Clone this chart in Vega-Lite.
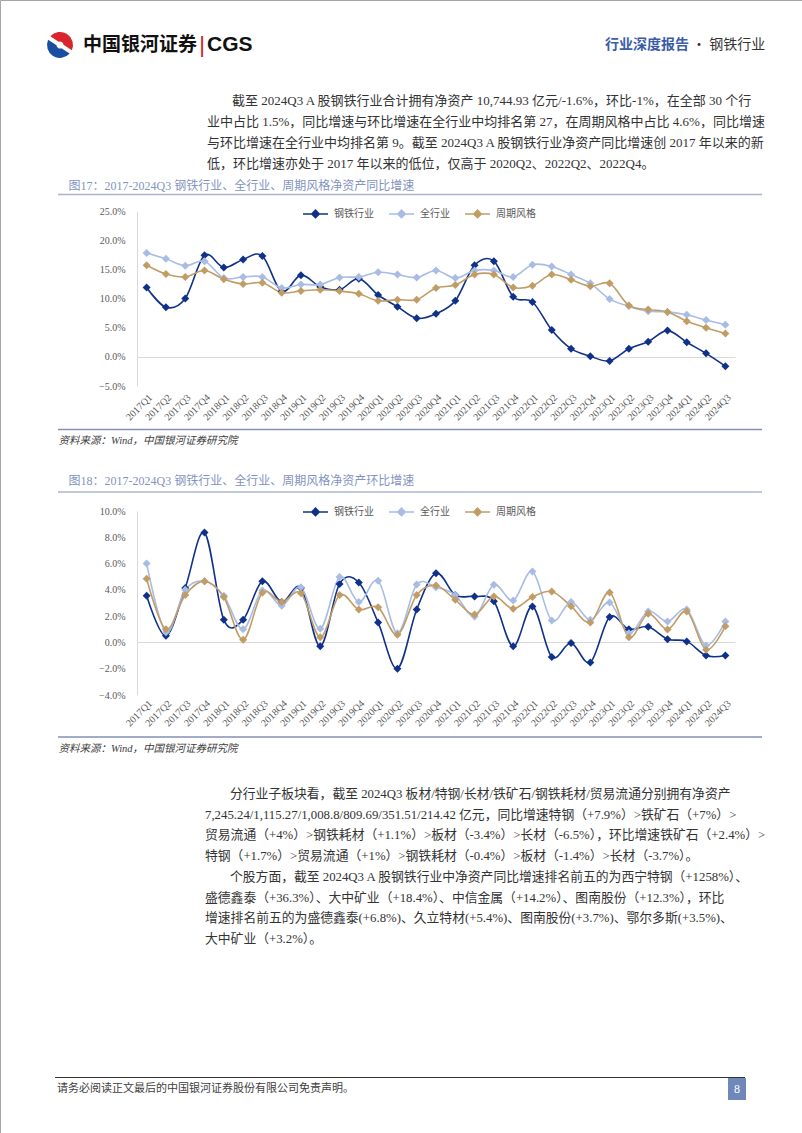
{
  "$schema": "https://vega.github.io/schema/vega-lite/v6.json",
  "width": 802,
  "height": 1133,
  "autosize": {"type": "none"},
  "padding": 0,
  "background": "white",
  "config": {
    "view": {"stroke": "#a6a6a6", "strokeWidth": 1},
    "axis": {"labelFont": "Liberation Serif", "labelFontSize": 10, "labelColor": "#595959", "ticks": false, "grid": false, "domainColor": "#d9d9d9", "domainWidth": 1, "titleFontWeight": "normal", "labelOverlap": false}
  },
  "datasets": {
    "yoy": [
      {"q": "2017Q1", "钢铁行业": 11.9, "全行业": 17.8, "周期风格": 15.7},
      {"q": "2017Q2", "钢铁行业": 8.5, "全行业": 16.8, "周期风格": 14.2},
      {"q": "2017Q3", "钢铁行业": 10.0, "全行业": 15.6, "周期风格": 13.7},
      {"q": "2017Q4", "钢铁行业": 17.4, "全行业": 16.4, "周期风格": 14.8},
      {"q": "2018Q1", "钢铁行业": 15.3, "全行业": 13.5, "周期风格": 13.3},
      {"q": "2018Q2", "钢铁行业": 16.7, "全行业": 13.7, "周期风格": 12.5},
      {"q": "2018Q3", "钢铁行业": 17.3, "全行业": 13.7, "周期风格": 12.7},
      {"q": "2018Q4", "钢铁行业": 11.2, "全行业": 11.8, "周期风格": 11.0},
      {"q": "2019Q1", "钢铁行业": 14.0, "全行业": 12.4, "周期风格": 11.3},
      {"q": "2019Q2", "钢铁行业": 12.0, "全行业": 12.4, "周期风格": 11.5},
      {"q": "2019Q3", "钢铁行业": 11.5, "全行业": 13.6, "周期风格": 11.3},
      {"q": "2019Q4", "钢铁行业": 13.4, "全行业": 13.7, "周期风格": 10.8},
      {"q": "2020Q1", "钢铁行业": 10.6, "全行业": 14.5, "周期风格": 9.6},
      {"q": "2020Q2", "钢铁行业": 8.6, "全行业": 14.1, "周期风格": 9.8},
      {"q": "2020Q3", "钢铁行业": 6.6, "全行业": 13.6, "周期风格": 9.8},
      {"q": "2020Q4", "钢铁行业": 7.4, "全行业": 14.8, "周期风格": 11.8},
      {"q": "2021Q1", "钢铁行业": 9.6, "全行业": 13.5, "周期风格": 12.3},
      {"q": "2021Q2", "钢铁行业": 15.7, "全行业": 14.8, "周期风格": 14.1},
      {"q": "2021Q3", "钢铁行业": 16.4, "全行业": 14.8, "周期风格": 14.1},
      {"q": "2021Q4", "钢铁行业": 10.3, "全行业": 13.7, "周期风格": 11.9},
      {"q": "2022Q1", "钢铁行业": 9.4, "全行业": 15.8, "周期风格": 12.2},
      {"q": "2022Q2", "钢铁行业": 4.6, "全行业": 15.5, "周期风格": 14.1},
      {"q": "2022Q3", "钢铁行业": 1.4, "全行业": 14.1, "周期风格": 13.2},
      {"q": "2022Q4", "钢铁行业": 0.1, "全行业": 12.6, "周期风格": 12.1},
      {"q": "2023Q1", "钢铁行业": -0.7, "全行业": 9.9, "周期风格": 12.6},
      {"q": "2023Q2", "钢铁行业": 1.4, "全行业": 8.7, "周期风格": 8.8},
      {"q": "2023Q3", "钢铁行业": 2.6, "全行业": 7.8, "周期风格": 8.1},
      {"q": "2023Q4", "钢铁行业": 4.5, "全行业": 7.7, "周期风格": 7.7},
      {"q": "2024Q1", "钢铁行业": 2.5, "全行业": 7.2, "周期风格": 6.1},
      {"q": "2024Q2", "钢铁行业": 0.6, "全行业": 6.3, "周期风格": 5.0},
      {"q": "2024Q3", "钢铁行业": -1.6, "全行业": 5.5, "周期风格": 4.0}
    ],
    "qoq": [
      {"q": "2017Q1", "钢铁行业": 3.55, "全行业": 6.0, "周期风格": 4.84},
      {"q": "2017Q2", "钢铁行业": 0.5, "全行业": 0.78, "周期风格": 1.0},
      {"q": "2017Q3", "钢铁行业": 4.15, "全行业": 4.0, "周期风格": 3.6},
      {"q": "2017Q4", "钢铁行业": 8.36, "全行业": 4.66, "周期风格": 4.66},
      {"q": "2018Q1", "钢铁行业": 1.72, "全行业": 3.55, "周期风格": 3.45},
      {"q": "2018Q2", "钢铁行业": 1.72, "全行业": 1.0, "周期风格": 0.2},
      {"q": "2018Q3", "钢铁行业": 4.66, "全行业": 3.95, "周期风格": 3.78},
      {"q": "2018Q4", "钢铁行业": 3.07, "全行业": 2.8, "周期风格": 3.07},
      {"q": "2019Q1", "钢铁行业": 4.15, "全行业": 4.2, "周期风格": 3.75},
      {"q": "2019Q2", "钢铁行业": -0.3, "全行业": 1.04, "周期风格": 0.4},
      {"q": "2019Q3", "钢铁行业": 4.45, "全行业": 4.97, "周期风格": 3.6},
      {"q": "2019Q4", "钢铁行业": 4.56, "全行业": 3.07, "周期风格": 2.5},
      {"q": "2020Q1", "钢铁行业": 1.52, "全行业": 4.7, "周期风格": 2.68},
      {"q": "2020Q2", "钢铁行业": -2.0, "全行业": 0.7, "周期风格": 0.58},
      {"q": "2020Q3", "钢铁行业": 2.5, "全行业": 4.4, "周期风格": 3.6},
      {"q": "2020Q4", "钢铁行业": 5.27, "全行业": 4.2, "周期风格": 4.33},
      {"q": "2021Q1", "钢铁行业": 3.6, "全行业": 3.6, "周期风格": 3.24},
      {"q": "2021Q2", "钢铁行业": 3.5, "全行业": 1.98, "周期风格": 2.13},
      {"q": "2021Q3", "钢铁行业": 3.14, "全行业": 4.38, "周期风格": 3.5},
      {"q": "2021Q4", "钢铁行业": -0.3, "全行业": 3.19, "周期风格": 2.56},
      {"q": "2022Q1", "钢铁行业": 2.74, "全行业": 5.4, "周期风格": 3.45},
      {"q": "2022Q2", "钢铁行业": -1.1, "全行业": 1.67, "周期风格": 3.88},
      {"q": "2022Q3", "钢铁行业": -0.05, "全行业": 3.07, "周期风格": 2.76},
      {"q": "2022Q4", "钢铁行业": -1.52, "全行业": 1.72, "周期风格": 1.52},
      {"q": "2023Q1", "钢铁行业": 1.93, "全行业": 3.04, "周期风格": 3.8},
      {"q": "2023Q2", "钢铁行业": 1.0, "全行业": 0.7, "周期风格": 0.4},
      {"q": "2023Q3", "钢铁行业": 1.19, "全行业": 2.36, "周期风格": 2.18},
      {"q": "2023Q4", "钢铁行业": 0.25, "全行业": 1.6, "周期风格": 0.99},
      {"q": "2024Q1", "钢铁行业": 0.08, "全行业": 2.5, "周期风格": 2.36},
      {"q": "2024Q2", "钢铁行业": -1.0, "全行业": -0.23, "周期风格": -0.56},
      {"q": "2024Q3", "钢铁行业": -1.0, "全行业": 1.6, "周期风格": 1.24}
    ]
  },
  "resolve": {
    "scale": {"x": "independent", "y": "independent", "color": "independent", "theta": "independent"},
    "axis": {"x": "independent", "y": "independent"},
    "legend": {"color": "independent"}
  },
  "layer": [
    {
      "data": {"name": "yoy"},
      "transform": [{"fold": ["钢铁行业", "全行业", "周期风格"], "as": ["s", "v"]}],
      "encoding": {
        "x": {"field": "q", "type": "ordinal", "scale": {"type": "point", "range": [137, 735], "padding": 0.5},
          "axis": {"orient": "bottom", "offset": -776, "labelAngle": -45, "labelPadding": 35,
            "title": "资料来源：Wind，中国银河证券研究院", "titleX": 58, "titleY": 83, "titleAlign": "left", "titleBaseline": "middle",
            "titleFont": "Liberation Serif, Noto Sans CJK SC", "titleFontSize": 10.5, "titleFontStyle": "italic", "titleColor": "#404040"}},
        "y": {"field": "v", "type": "quantitative", "scale": {"domain": [-5, 25], "range": [386, 211], "nice": false, "zero": false},
          "axis": {"orient": "left", "offset": -137, "values": [-5, 0, 5, 10, 15, 20, 25], "labelExpr": "format(datum.value, '.1f') + '%'", "labelPadding": 12,
            "title": "图17：2017-2024Q3 钢铁行业、全行业、周期风格净资产同比增速", "titleAngle": 0, "titleX": -69, "titleY": 185, "titleAlign": "left", "titleBaseline": "middle",
            "titleFont": "Liberation Serif, Noto Sans CJK SC", "titleFontSize": 12, "titleColor": "#8393c0"}},
        "color": {"field": "s", "type": "nominal",
          "scale": {"domain": ["钢铁行业", "全行业", "周期风格"], "range": ["#10318a", "#a8bce4", "#c19d66"]},
          "legend": {"orient": "none", "legendX": 302, "legendY": 200, "direction": "horizontal", "title": null,
            "symbolType": "M-1,0H1M0,-0.3L0.3,0L0,0.3L-0.3,0Z", "symbolSize": 625, "symbolStrokeWidth": 1.5,
            "labelFont": "Liberation Serif, Noto Sans CJK SC", "labelFontSize": 10, "labelColor": "#595959", "labelOffset": 5, "columnPadding": 12,
            "encode": {"symbols": {"update": {
              "fill": {"signal": "datum.value === '钢铁行业' ? '#10318a' : datum.value === '全行业' ? '#a8bce4' : '#c19d66'"},
              "stroke": {"signal": "datum.value === '钢铁行业' ? '#10318a' : datum.value === '全行业' ? '#a8bce4' : '#c19d66'"},
              "opacity": {"value": 1}}}}}}
      },
      "layer": [
        {"mark": {"type": "line", "interpolate": "cardinal", "tension": 0, "strokeWidth": 1.6}},
        {"mark": {"type": "point", "shape": "diamond", "filled": true, "size": 64, "opacity": 1}}
      ]
    },
    {
      "data": {"name": "qoq"},
      "transform": [{"fold": ["钢铁行业", "全行业", "周期风格"], "as": ["s", "v"]}],
      "encoding": {
        "x": {"field": "q", "type": "ordinal", "scale": {"type": "point", "range": [137, 735], "padding": 0.5},
          "axis": {"orient": "bottom", "offset": -491, "labelAngle": -45, "labelPadding": 56,
            "title": "资料来源：Wind，中国银河证券研究院", "titleX": 58, "titleY": 106, "titleAlign": "left", "titleBaseline": "middle",
            "titleFont": "Liberation Serif, Noto Sans CJK SC", "titleFontSize": 10.5, "titleFontStyle": "italic", "titleColor": "#404040"}},
        "y": {"field": "v", "type": "quantitative", "scale": {"domain": [-4, 10], "range": [695, 511], "nice": false, "zero": false},
          "axis": {"orient": "left", "offset": -137, "values": [-4, -2, 0, 2, 4, 6, 8, 10], "labelExpr": "format(datum.value, '.1f') + '%'", "labelPadding": 12,
            "title": "图18：2017-2024Q3 钢铁行业、全行业、周期风格净资产环比增速", "titleAngle": 0, "titleX": -69, "titleY": 480, "titleAlign": "left", "titleBaseline": "middle",
            "titleFont": "Liberation Serif, Noto Sans CJK SC", "titleFontSize": 12, "titleColor": "#8393c0"}},
        "color": {"field": "s", "type": "nominal",
          "scale": {"domain": ["钢铁行业", "全行业", "周期风格"], "range": ["#10318a", "#a8bce4", "#c19d66"]},
          "legend": {"orient": "none", "legendX": 302, "legendY": 498, "direction": "horizontal", "title": null,
            "symbolType": "M-1,0H1M0,-0.3L0.3,0L0,0.3L-0.3,0Z", "symbolSize": 625, "symbolStrokeWidth": 1.5,
            "labelFont": "Liberation Serif, Noto Sans CJK SC", "labelFontSize": 10, "labelColor": "#595959", "labelOffset": 5, "columnPadding": 12,
            "encode": {"symbols": {"update": {
              "fill": {"signal": "datum.value === '钢铁行业' ? '#10318a' : datum.value === '全行业' ? '#a8bce4' : '#c19d66'"},
              "stroke": {"signal": "datum.value === '钢铁行业' ? '#10318a' : datum.value === '全行业' ? '#a8bce4' : '#c19d66'"},
              "opacity": {"value": 1}}}}}}
      },
      "layer": [
        {"mark": {"type": "line", "interpolate": "cardinal", "tension": 0, "strokeWidth": 1.6}},
        {"mark": {"type": "point", "shape": "diamond", "filled": true, "size": 64, "opacity": 1}}
      ]
    },
    {
      "data": {"values": [{"r": "top"}, {"r": "bottom"}]},
      "mark": {"type": "rule", "strokeWidth": 1.3},
      "encoding": {
        "x": {"datum": "L", "scale": {"type": "point", "domain": ["L", "R"], "range": [58, 762], "padding": 0}, "axis": null},
        "x2": {"datum": "R"},
        "y": {"field": "r", "type": "nominal", "scale": {"type": "point", "domain": ["top", "bottom"], "range": [194.5, 429.5], "padding": 0}, "axis": null},
        "color": {"field": "r", "type": "nominal", "scale": {"domain": ["top", "bottom"], "range": ["#aab4cf", "#8390b8"]}, "legend": null}
      }
    },
    {
      "data": {"values": [{"r": "top"}, {"r": "bottom"}]},
      "mark": {"type": "rule", "strokeWidth": 1.3},
      "encoding": {
        "x": {"datum": "L", "scale": {"type": "point", "domain": ["L", "R"], "range": [58, 762], "padding": 0}, "axis": null},
        "x2": {"datum": "R"},
        "y": {"field": "r", "type": "nominal", "scale": {"type": "point", "domain": ["top", "bottom"], "range": [492, 737], "padding": 0}, "axis": null},
        "color": {"field": "r", "type": "nominal", "scale": {"domain": ["top", "bottom"], "range": ["#aab4cf", "#8390b8"]}, "legend": null}
      }
    },
    {
      "data": {"values": [{"p": "红", "v": 1}, {"p": "蓝", "v": 1}]},
      "mark": {"type": "arc", "radius": 13, "innerRadius": 3.5, "padAngle": 0.3},
      "encoding": {
        "theta": {"field": "v", "type": "quantitative", "scale": {"range": [-1.0, 5.28]}},
        "color": {"field": "p", "type": "nominal", "scale": {"domain": ["红", "蓝"], "range": ["#d9262e", "#1a4ea0"]}, "legend": null},
        "x": {"datum": "c", "scale": {"type": "point", "domain": ["c"], "range": [60, 60]}, "axis": null},
        "y": {"datum": "c", "scale": {"type": "point", "domain": ["c"], "range": [45, 45]}, "axis": null}
      }
    },
    {
      "data": {"values": [{"k": "cn", "t": "中国银河证券"}, {"k": "bar", "t": "|"}, {"k": "en", "t": "CGS"}]},
      "encoding": {
        "x": {"field": "k", "type": "nominal", "scale": {"type": "point", "domain": ["cn", "bar", "en"], "range": [197, 207], "padding": 0}, "axis": null},
        "y": {"datum": "h", "scale": {"type": "point", "domain": ["h"], "range": [45, 45]}, "axis": null},
        "text": {"field": "t"}
      },
      "layer": [
        {"transform": [{"filter": "datum.k === 'cn'"}], "mark": {"type": "text", "align": "right", "baseline": "middle", "font": "Noto Sans CJK SC", "fontWeight": "bold", "fontSize": 19, "color": "#111111"}},
        {"transform": [{"filter": "datum.k === 'bar'"}], "mark": {"type": "text", "align": "center", "baseline": "middle", "font": "Liberation Sans", "fontSize": 22, "color": "#d0202a"}},
        {"transform": [{"filter": "datum.k === 'en'"}], "mark": {"type": "text", "align": "left", "baseline": "middle", "font": "Liberation Sans", "fontWeight": "bold", "fontSize": 21, "color": "#111111"}}
      ]
    },
    {
      "data": {"values": [{"k": "a", "t": "行业深度报告"}, {"k": "b", "t": "·  钢铁行业"}]},
      "encoding": {
        "x": {"field": "k", "type": "nominal", "scale": {"type": "point", "domain": ["a", "b"], "range": [689, 692], "padding": 0}, "axis": null},
        "y": {"datum": "h", "scale": {"type": "point", "domain": ["h"], "range": [45, 45]}, "axis": null},
        "text": {"field": "t"}
      },
      "layer": [
        {"transform": [{"filter": "datum.k === 'a'"}], "mark": {"type": "text", "align": "right", "baseline": "middle", "font": "Noto Sans CJK SC", "fontWeight": "bold", "fontSize": 14, "color": "#3b5ca8"}},
        {"transform": [{"filter": "datum.k === 'b'"}], "mark": {"type": "text", "align": "left", "baseline": "middle", "font": "Noto Sans CJK SC", "fontSize": 14, "color": "#333333"}}
      ]
    },
    {
      "data": {"values": [
        {"n": 1, "ind": "首行", "t": "截至 2024Q3 A 股钢铁行业合计拥有净资产 10,744.93 亿元/-1.6%，环比-1%，在全部 30 个行"},
        {"n": 2, "ind": "续行", "t": "业中占比 1.5%，同比增速与环比增速在全行业中均排名第 27，在周期风格中占比 4.6%，同比增速"},
        {"n": 3, "ind": "续行", "t": "与环比增速在全行业中均排名第 9。截至 2024Q3 A 股钢铁行业净资产同比增速创 2017 年以来的新"},
        {"n": 4, "ind": "续行", "t": "低，环比增速亦处于 2017 年以来的低位，仅高于 2020Q2、2022Q2、2022Q4。"}
      ]},
      "mark": {"type": "text", "align": "left", "baseline": "middle", "font": "Liberation Serif, Noto Sans CJK SC", "fontSize": 13, "color": "#333333"},
      "encoding": {
        "x": {"field": "ind", "type": "nominal", "scale": {"type": "point", "domain": ["续行", "首行"], "range": [207, 232], "padding": 0}, "axis": null},
        "y": {"field": "n", "type": "ordinal", "scale": {"type": "point", "range": [101, 164], "padding": 0}, "axis": null},
        "text": {"field": "t"}
      }
    },
    {
      "data": {"values": [
        {"n": 1, "ind": "首行", "t": "分行业子板块看，截至 2024Q3 板材/特钢/长材/铁矿石/钢铁耗材/贸易流通分别拥有净资产"},
        {"n": 2, "ind": "续行", "t": "7,245.24/1,115.27/1,008.8/809.69/351.51/214.42 亿元，同比增速特钢（+7.9%）>铁矿石（+7%）>"},
        {"n": 3, "ind": "续行", "t": "贸易流通（+4%）>钢铁耗材（+1.1%）>板材（-3.4%）>长材（-6.5%），环比增速铁矿石（+2.4%）>"},
        {"n": 4, "ind": "续行", "t": "特钢（+1.7%）>贸易流通（+1%）>钢铁耗材（-0.4%）>板材（-1.4%）>长材（-3.7%）。"},
        {"n": 5, "ind": "首行", "t": "个股方面，截至 2024Q3 A 股钢铁行业中净资产同比增速排名前五的为西宁特钢（+1258%）、"},
        {"n": 6, "ind": "续行", "t": "盛德鑫泰（+36.3%）、大中矿业（+18.4%）、中信金属（+14.2%）、图南股份（+12.3%），环比"},
        {"n": 7, "ind": "续行", "t": "增速排名前五的为盛德鑫泰(+6.8%)、久立特材(+5.4%)、图南股份(+3.7%)、鄂尔多斯(+3.5%)、"},
        {"n": 8, "ind": "续行", "t": "大中矿业（+3.2%）。"}
      ]},
      "mark": {"type": "text", "align": "left", "baseline": "middle", "font": "Liberation Serif, Noto Sans CJK SC", "fontSize": 12.8, "color": "#333333"},
      "encoding": {
        "x": {"field": "ind", "type": "nominal", "scale": {"type": "point", "domain": ["续行", "首行"], "range": [205, 230], "padding": 0}, "axis": null},
        "y": {"field": "n", "type": "ordinal", "scale": {"type": "point", "range": [794, 939], "padding": 0}, "axis": null},
        "text": {"field": "t"}
      }
    },
    {
      "data": {"values": [{"k": "line"}, {"k": "text", "t": "请务必阅读正文最后的中国银河证券股份有限公司免责声明。"}]},
      "encoding": {
        "x": {"datum": "L", "scale": {"type": "point", "domain": ["L", "R"], "range": [55, 745], "padding": 0}, "axis": null},
        "y": {"field": "k", "type": "nominal", "scale": {"type": "point", "domain": ["line", "text"], "range": [1077.5, 1089], "padding": 0}, "axis": null}
      },
      "layer": [
        {"transform": [{"filter": "datum.k === 'line'"}], "mark": {"type": "rule", "color": "#333333", "strokeWidth": 1.2}, "encoding": {"x2": {"datum": "R"}}},
        {"transform": [{"filter": "datum.k === 'text'"}], "mark": {"type": "text", "align": "left", "baseline": "middle", "dx": 2, "font": "Noto Sans CJK SC", "fontSize": 11, "color": "#404040"}, "encoding": {"text": {"field": "t"}}}
      ]
    },
    {
      "data": {"values": [{"page": "8"}]},
      "encoding": {
        "x": {"datum": "a", "scale": {"type": "point", "domain": ["a", "m", "b"], "range": [728, 746], "padding": 0}, "axis": null},
        "y": {"datum": "a", "scale": {"type": "point", "domain": ["a", "m", "b"], "range": [1078, 1100], "padding": 0}, "axis": null}
      },
      "layer": [
        {"mark": {"type": "rect", "color": "#6f87b9"}, "encoding": {"x2": {"datum": "b"}, "y2": {"datum": "b"}}},
        {"mark": {"type": "text", "align": "center", "baseline": "middle", "font": "Liberation Serif", "fontSize": 12, "color": "white"},
          "encoding": {"x": {"datum": "m"}, "y": {"datum": "m"}, "text": {"field": "page"}}}
      ]
    }
  ]
}
